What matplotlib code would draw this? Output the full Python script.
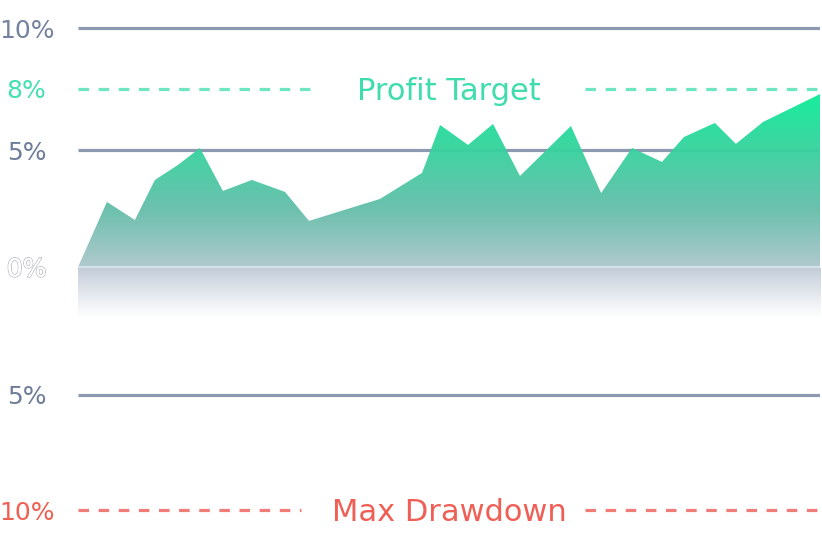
import numpy as np
import matplotlib
matplotlib.use("Agg")
import matplotlib.pyplot as plt
import matplotlib.patheffects as pe
from matplotlib.colors import to_rgb

# ---------------- data ----------------
days = [0, 1.17, 2.30, 3.11, 4.04, 4.93, 5.86, 7.03, 8.37, 9.34, 12.21, 13.91,
        14.64, 15.77, 16.78, 17.87, 19.93, 21.15, 22.40, 23.61, 24.50, 25.75,
        26.60, 27.70, 30.0]
profit = [0, 2.78, 2.01, 3.72, 4.36, 5.10, 3.25, 3.72, 3.21, 1.97, 2.91, 4.02,
          6.23, 5.25, 6.28, 3.89, 6.18, 3.16, 5.10, 4.49, 5.64, 6.33,
          5.30, 6.38, 7.75]
tick_values = [10, 8, 5, 0, -5, -10]
tick_labels = ["10%", "8%", "5%", "0%", "5%", "10%"]
profit_target = 8
max_drawdown = -10
grid_levels = [10, 5, -5]

FONT = "DejaVu Sans"

# ---------------- scale (piecewise linear, as drawn) ----------------
V = np.array([-30, -10, -5, 0, 5, 8, 10, 30], float)
P = np.array([-434, 26, 141, 269, 386, 447, 508, 1118], float)

def fwd(v):
    return np.interp(v, V, P)

def inv(p):
    return np.interp(p, P, V)

W, H = 822, 536
fig = plt.figure(figsize=(W / 100, H / 100), dpi=100)
ax = fig.add_axes([78 / W, 0, 742 / W, 1])
ax.set_yscale("function", functions=(fwd, inv))
ax.set_xlim(0, 30)
ax.set_ylim(inv(0), inv(H))
for s in ax.spines.values():
    s.set_visible(False)
ax.set_xticks([])

grid_col = "#8d99b1"
for g in grid_levels:
    ax.axhline(g, color=grid_col, lw=2.3, zorder=1, solid_capstyle="butt")

# ---------------- area with vertical gradient ----------------
def axfrac(py):
    return (H - py) / H

poly = ax.fill_between(days, profit, 0, facecolor="none", edgecolor="none")
stops_py = [94, 150, 210, 267]
stops_c = ["#0eec99", "#38d29e", "#66beab", "#adc7cb"]
rows = np.linspace(94, 267, 200)
cols = np.array([[np.interp(r, stops_py, [to_rgb(c)[k] for c in stops_c]) for k in range(3)] for r in rows])
im = ax.imshow(cols[:, None, :], extent=[0, 1, axfrac(267), axfrac(94)], transform=ax.transAxes,
               aspect="auto", origin="upper", zorder=2, alpha=0.96, interpolation="bilinear")
im.set_clip_path(poly.get_paths()[0], ax.transData)

# below zero shading
rows2 = np.linspace(268, 318, 100)
top = np.array(to_rgb("#c3ccd8"))
c2 = np.array([top + (np.ones(3) - top) * ((r - 268) / 50) ** 0.9 for r in rows2])
ax.imshow(c2[:, None, :], extent=[0, 1, axfrac(318), axfrac(268)], transform=ax.transAxes,
          aspect="auto", origin="upper", zorder=2, interpolation="bilinear")

# zero line
ax.axhline(0, color="#d3e1e8", lw=1.6, zorder=3)

# ---------------- target / drawdown lines ----------------
teal = "#6fe6c2"
red = "#f07c78"
dash = (0, (3.3, 3.0))
for x0, x1 in [(0, 9.5), (20.5, 30)]:
    ax.plot([x0, x1], [profit_target, profit_target], color=teal, lw=2.3, ls=dash,
            dash_capstyle="butt", zorder=3)
for x0, x1 in [(0, 9.0), (20.5, 30)]:
    ax.plot([x0, x1], [max_drawdown, max_drawdown], color=red, lw=2.3, ls=dash,
            dash_capstyle="butt", zorder=3)
ax.annotate("Profit Target", (15, profit_target), xytext=(0, -8), textcoords="offset points",
            color="#3fdcae", fontsize=22, family=FONT, ha="center", va="baseline", zorder=4)
ax.annotate("Max Drawdown", (15, max_drawdown), xytext=(0, -8), textcoords="offset points",
            color="#ef5f55", fontsize=22, family=FONT, ha="center", va="baseline", zorder=4)

# ---------------- tick labels ----------------
ax.set_yticks(tick_values)
ax.set_yticklabels(tick_labels)
ax.yaxis.set_minor_locator(matplotlib.ticker.NullLocator())
ax.tick_params(axis="y", length=0, pad=37)
label_cols = ["#76839e", "#45e0b0", "#6f7d9a", "#ffffff", "#6f7d9a", "#ef6052"]
for lab, c in zip(ax.get_yticklabels(), label_cols):
    lab.set_color(c)
    lab.set_fontsize(18)
    lab.set_family(FONT)
    lab.set_horizontalalignment("center")
    if c == "#ffffff":
        lab.set_path_effects([pe.withStroke(linewidth=1.2, foreground="#b8bcc2"), pe.Normal()])

fig.savefig("out.png", dpi=100)
